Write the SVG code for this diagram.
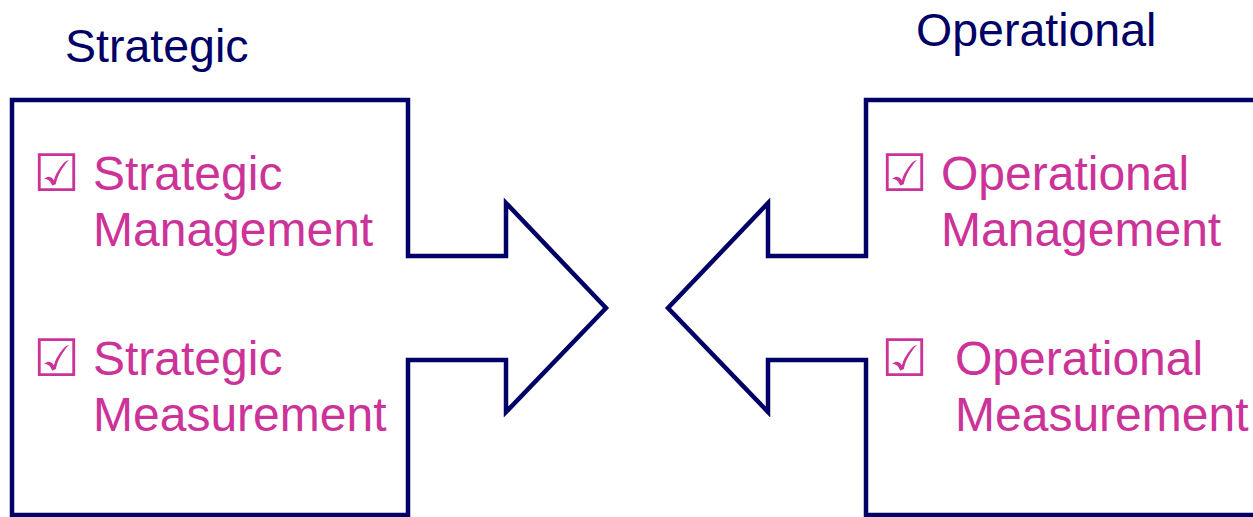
<svg xmlns="http://www.w3.org/2000/svg" width="1253" height="517" viewBox="0 0 1253 517">
<style>
.shape{fill:#fff;stroke:#000066;stroke-width:4.5;stroke-linejoin:miter}
.title{font-family:"Liberation Sans",Arial,sans-serif;font-size:46.5px;fill:#000066}
.item{font-family:"Liberation Sans",Arial,sans-serif;font-size:48px;fill:#CC3399}
.chk{font-family:"DejaVu Sans",sans-serif;font-size:52px;fill:#CC3399}
</style>
<rect width="1253" height="517" fill="#fff"/>
<g id="strategic">
<polygon class="shape" points="12,100 408,100 408,256 506,256 506,203 606,308 506,412 506,360 408,360 408,515 12,515"/>
<text class="title" x="65" y="62">Strategic</text>
<text class="chk" x="33" y="191">☑</text>
<text class="item" x="93" y="190">Strategic</text>
<text class="item" x="93" y="246">Management</text>
<text class="chk" x="33" y="376">☑</text>
<text class="item" x="93" y="375">Strategic</text>
<text class="item" x="93" y="431">Measurement</text>
</g>
<g id="operational">
<polygon class="shape" points="1260,100 866,100 866,256 768,256 768,203 668,308 768,412 768,360 866,360 866,515 1260,515"/>
<text class="title" x="916" y="46">Operational</text>
<text class="chk" x="881" y="191">☑</text>
<text class="item" x="941" y="190">Operational</text>
<text class="item" x="941" y="246">Management</text>
<text class="chk" x="881" y="376">☑</text>
<text class="item" x="955" y="375">Operational</text>
<text class="item" x="955" y="431">Measurement</text>
</g>
<g id="connectors"></g>
</svg>
